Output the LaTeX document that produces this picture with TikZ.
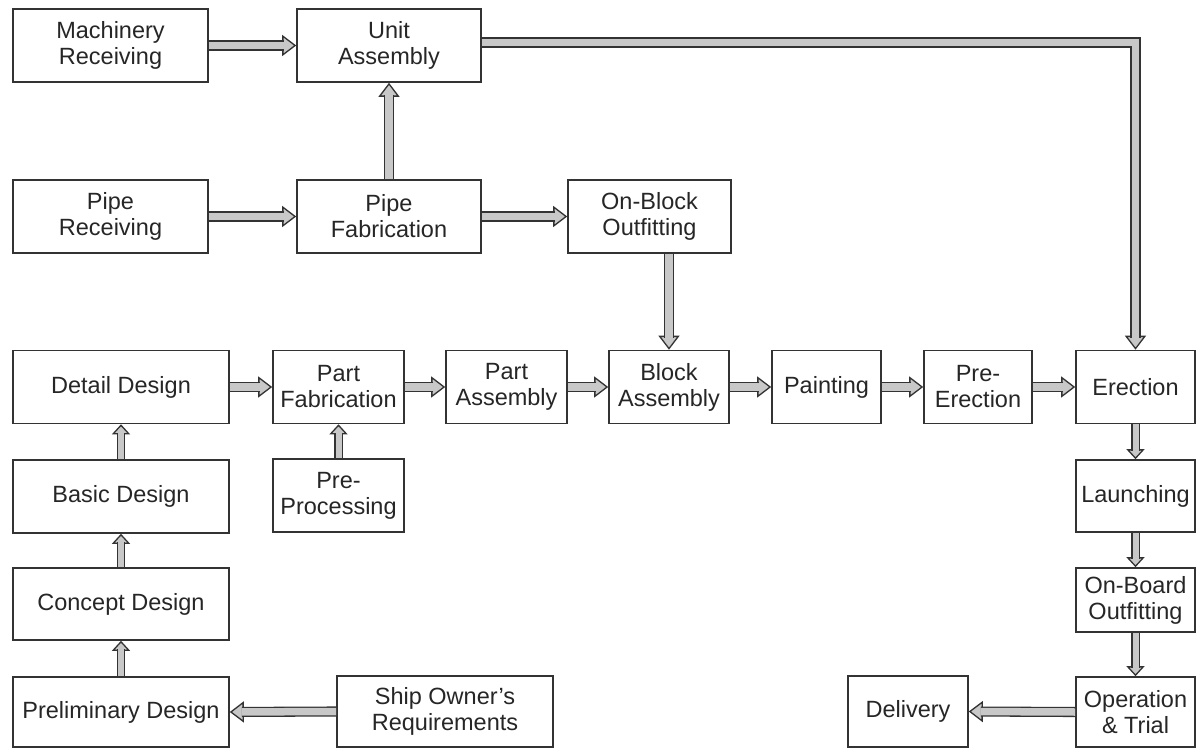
\documentclass[tikz,border=0pt]{standalone}
\usepackage{fontspec}
\setmainfont{Liberation Sans}
\usetikzlibrary{arrows.meta}
\definecolor{ln}{HTML}{333333}
\definecolor{af}{HTML}{C8C8C8}
\begin{document}
\begin{tikzpicture}[x=1pt,y=-1pt,
  box/.style={draw=ln, line width=1.6pt, fill=white, rectangle, inner sep=0pt,
    align=center, font=\fontsize{23.5}{26}\selectfont, text=black!85},
  fat/.style={draw=ln, line width=1.3pt, -{Triangle[width=21pt,length=14pt,fill=af]},
    postaction={draw=ln, -, line width=1.3pt, double=af, double distance=7.5pt, shorten >=12pt}},
  thin/.style={draw=ln, line width=1.3pt, -{Triangle[width=18pt,length=10pt,fill=af]},
    postaction={draw=ln, -, line width=1.3pt, double=af, double distance=6pt, shorten >=8.5pt}}]
\useasboundingbox (0,0) rectangle (1202,749);
\fill[white] (0,0) rectangle (1202,749);

% top rows
\node[box, minimum width=195, minimum height=73] (mr) at (110.5,45.5) {Machinery\\Receiving};
\node[box, minimum width=184, minimum height=73] (ua) at (389,45.5) {Unit\\Assembly};
\node[box, minimum width=195, minimum height=73] (pr) at (110.5,216.5) {Pipe\\Receiving};
\node[box, minimum width=184, minimum height=73] (pf) at (389,216.5) {Pipe\\Fabrication};
\node[box, minimum width=163, minimum height=73] (ob) at (649.5,216.5) {On-Block\\Outfitting};

% main row
\node[box, minimum width=216, minimum height=73] (dd) at (121,387) {Detail Design};
\node[box, minimum width=131, minimum height=73] (pfab) at (338.5,387) {Part\\Fabrication};
\node[box, minimum width=121, minimum height=73] (pa) at (506.5,387) {Part\\Assembly};
\node[box, minimum width=120, minimum height=73] (ba) at (669,387) {Block\\Assembly};
\node[box, minimum width=109, minimum height=73] (pt) at (826.5,387) {Painting};
\node[box, minimum width=108, minimum height=73] (pe) at (978,387) {Pre-\\Erection};
\node[box, minimum width=119, minimum height=73] (er) at (1135.5,387) {Erection};

% lower rows
\node[box, minimum width=216, minimum height=73] (bd) at (121,496.5) {Basic Design};
\node[box, minimum width=131, minimum height=73] (pp) at (338.5,495.5) {Pre-\\Processing};
\node[box, minimum width=119, minimum height=72] (la) at (1135.5,496) {Launching};
\node[box, minimum width=216, minimum height=72] (cd) at (121,604) {Concept Design};
\node[box, minimum width=119, minimum height=64] (obo) at (1135.5,600) {On-Board\\Outfitting};
\node[box, minimum width=216, minimum height=70] (pd) at (121,712) {Preliminary Design};
\node[box, minimum width=216, minimum height=71] (so) at (445,711.5) {Ship Owner's\\Requirements};
\node[box, minimum width=120, minimum height=71] (de) at (908,711.5) {Delivery};
\node[box, minimum width=119, minimum height=70] (ot) at (1135.5,712) {Operation\\\& Trial};

% connectors
\draw[fat] (mr.east) -- (ua.west);
\draw[fat] (pf.north) -- (ua.south);
\draw[fat] (pr.east) -- (pf.west);
\draw[fat] (pf.east) -- (ob.west);
\draw[fat] (ob.south -| ba.north) -- (ba.north);
\draw[fat] ([yshift=3pt]ua.east) -| (er.north);

\draw[fat] (dd.east) -- (pfab.west);
\draw[fat] (pfab.east) -- (pa.west);
\draw[fat] (pa.east) -- (ba.west);
\draw[fat] (ba.east) -- (pt.west);
\draw[fat] (pt.east) -- (pe.west);
\draw[fat] (pe.east) -- (er.west);
\draw[thin] (pp.north) -- (pfab.south);

\draw[thin] (pd.north) -- (cd.south);
\draw[thin] (cd.north) -- (bd.south);
\draw[thin] (bd.north) -- (dd.south);
\draw[fat] (so.west) -- (pd.east);

\draw[thin] (er.south) -- (la.north);
\draw[thin] (la.south) -- (obo.north);
\draw[thin] (obo.south) -- (ot.north);
\draw[fat] (ot.west) -- (de.east);
\end{tikzpicture}
\end{document}
